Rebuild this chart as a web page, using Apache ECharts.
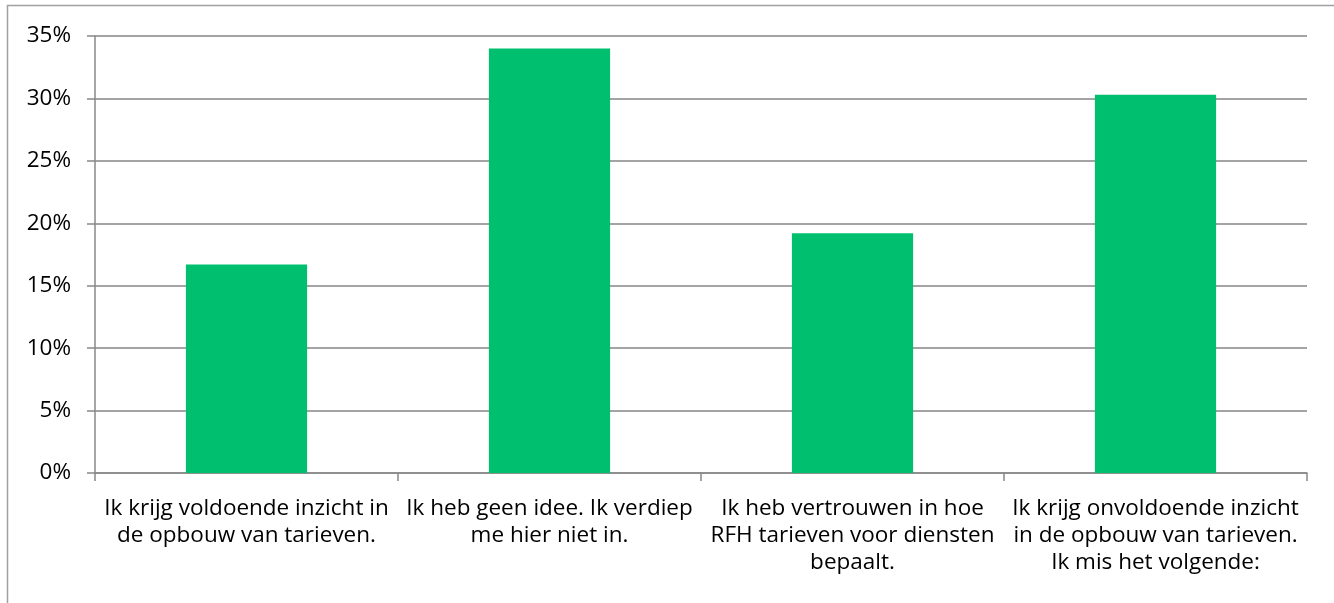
<!DOCTYPE html>
<html>
<head>
<meta charset="utf-8">
<script src="https://cdn.jsdelivr.net/npm/echarts@6/dist/echarts.min.js"></script>
<style>
  html, body { margin: 0; padding: 0; background: #fff; }
  #chart { width: 1334px; height: 603px; }
</style>
</head>
<body>
<div id="chart"></div>
<script>
// categorieën (met handmatige regelafbreking zoals in het origineel)
const categories = [
  'Ik krijg voldoende inzicht in\nde opbouw van tarieven.',
  'Ik heb geen idee. Ik verdiep\nme hier niet in.',
  'Ik heb vertrouwen in hoe\nRFH tarieven voor diensten\nbepaalt.',
  'Ik krijg onvoldoende inzicht\nin de opbouw van tarieven.\nIk mis het volgende:'
]
// percentages
const values = [16.7, 34.0, 19.2, 30.3]
const yTicks = { min: 0, max: 35, interval: 5 }

const chart = echarts.init(document.getElementById('chart'))

const option = {
  backgroundColor: '#fff',
  animation: false,
  textStyle: { fontFamily: 'Open Sans' },
  graphic: [
    {
      type: 'rect',
      shape: { x: 7.5, y: 5.5, width: 1340, height: 620 },
      style: { fill: 'none', stroke: '#a0a0a0', lineWidth: 1.5 },
      silent: true
    }
  ],
  grid: { left: 95, right: 27, top: 36, bottom: 130 },
  xAxis: {
    type: 'category',
    data: categories,
    axisLine: { lineStyle: { color: '#888', width: 1.5 } },
    axisTick: { show: true, length: 8, lineStyle: { color: '#888', width: 1.5 } },
    axisLabel: {
      color: '#000',
      fontFamily: 'Open Sans',
      fontSize: 22.5,
      lineHeight: 27,
      margin: 22,
      interval: 0
    }
  },
  yAxis: {
    type: 'value',
    min: yTicks.min,
    max: yTicks.max,
    interval: yTicks.interval,
    axisLine: { show: true, lineStyle: { color: '#888', width: 1.5 } },
    axisTick: { show: true, length: 8, lineStyle: { color: '#888', width: 1.5 } },
    splitLine: { lineStyle: { color: '#868686', width: 1.5 } },
    axisLabel: {
      color: '#000',
      fontFamily: 'Open Sans',
      fontSize: 22.5,
      margin: 24,
      formatter: '{value}%'
    }
  },
  series: [
    {
      type: 'bar',
      data: values,
      barWidth: '40%',
      itemStyle: { color: '#00BF6F' }
    }
  ]
}

chart.setOption(option)
</script>
</body>
</html>
